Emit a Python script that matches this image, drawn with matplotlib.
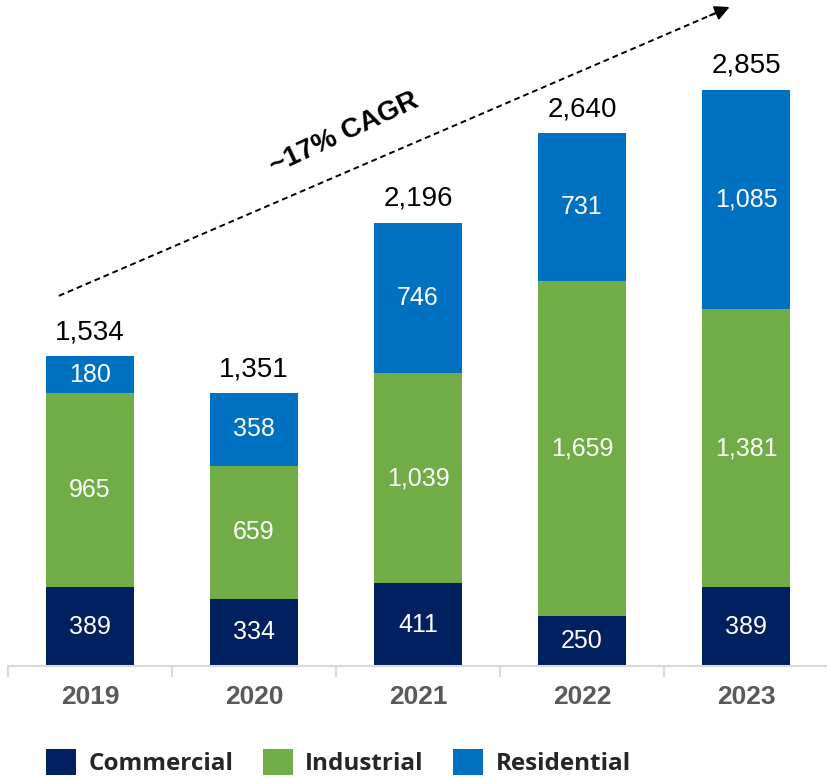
import numpy as np
import matplotlib.pyplot as plt

years = ["2019", "2020", "2021", "2022", "2023"]
commercial = [389, 334, 411, 250, 389]
industrial = [965, 659, 1039, 1659, 1381]
residential = [180, 358, 746, 731, 1085]
totals = [1534, 1351, 2196, 2640, 2855]

c_com = "#002060"
c_ind = "#70AD47"
c_res = "#0070C0"

plt.rcParams['font.family'] = ['Liberation Sans', 'DejaVu Sans']

fig = plt.figure(figsize=(8.28, 7.78), dpi=100)
ax = fig.add_axes([8/828, 112/778, 1 - 8/828, 666/778])

x = np.arange(len(years))
w = 0.54
com = np.array(commercial)
ind = np.array(industrial)
res = np.array(residential)

b1 = ax.bar(x, com, w, color=c_com, label="Commercial")
b2 = ax.bar(x, ind, w, bottom=com, color=c_ind, label="Industrial")
b3 = ax.bar(x, res, w, bottom=com + ind, color=c_res, label="Residential")

# segment values
for i in range(len(x)):
    ax.text(x[i], com[i] / 2, f"{com[i]:,}", ha="center", va="center", color="white", fontsize=18)
    ax.text(x[i], com[i] + ind[i] / 2, f"{ind[i]:,}", ha="center", va="center", color="white", fontsize=18)
    ax.text(x[i], com[i] + ind[i] + res[i] / 2, f"{res[i]:,}", ha="center", va="center", color="white", fontsize=18)
    ax.annotate(f"{totals[i]:,}", (x[i], totals[i]), xytext=(0, 8), textcoords="offset points",
                ha="center", va="bottom", fontsize=20, color="black")

# growth arrow
x0, y0, x1, y1 = -0.19, 1834, 3.9, 3265
slope = (y1 - y0) / (x1 - x0)
ax.plot([x0, x1 - 0.08], [y0, y1 - 0.08 * slope],
        ls=(0, (3, 2)), color="black", lw=1.4)
ax.annotate("", xy=(x1, y1), xytext=(x1 - 0.12, y1 - 0.12 * slope),
            arrowprops=dict(arrowstyle="-|>", color="black", lw=1.4, mutation_scale=22,
                            shrinkA=0, shrinkB=0))
ax.text(1.55, 2640, "~17% CAGR", rotation=25, rotation_mode="anchor", ha="center", va="center",
        fontsize=20, fontweight="bold")

ax.set_xlim(-0.5, 4.47)
ax.set_ylim(0, 3300)
ax.set_yticks([])
for s in ["top", "right", "left"]:
    ax.spines[s].set_visible(False)
ax.spines["bottom"].set_color("#D9D9D9")
ax.spines["bottom"].set_linewidth(1.5)

ax.set_xticks(x)
ax.set_xticklabels(years, fontsize=19, fontweight="bold", color="#595959")
ax.tick_params(axis="x", which="major", length=0, pad=14)
ax.set_xticks(np.arange(-0.5, 4.6, 1), minor=True)
ax.tick_params(axis="x", which="minor", length=8, width=1.5, color="#D9D9D9")

leg = fig.legend(handles=[b1, b2, b3], loc="lower left", bbox_to_anchor=(24/828, -20/778),
                 ncol=3, frameon=False, handlelength=1.25, handleheight=1.25, handletextpad=0.5,
                 columnspacing=1.2, prop={"family": "Open Sans", "weight": "bold", "size": 17.5})
for t in leg.get_texts():
    t.set_color("#262626")

fig.savefig("out.png", dpi=100)
